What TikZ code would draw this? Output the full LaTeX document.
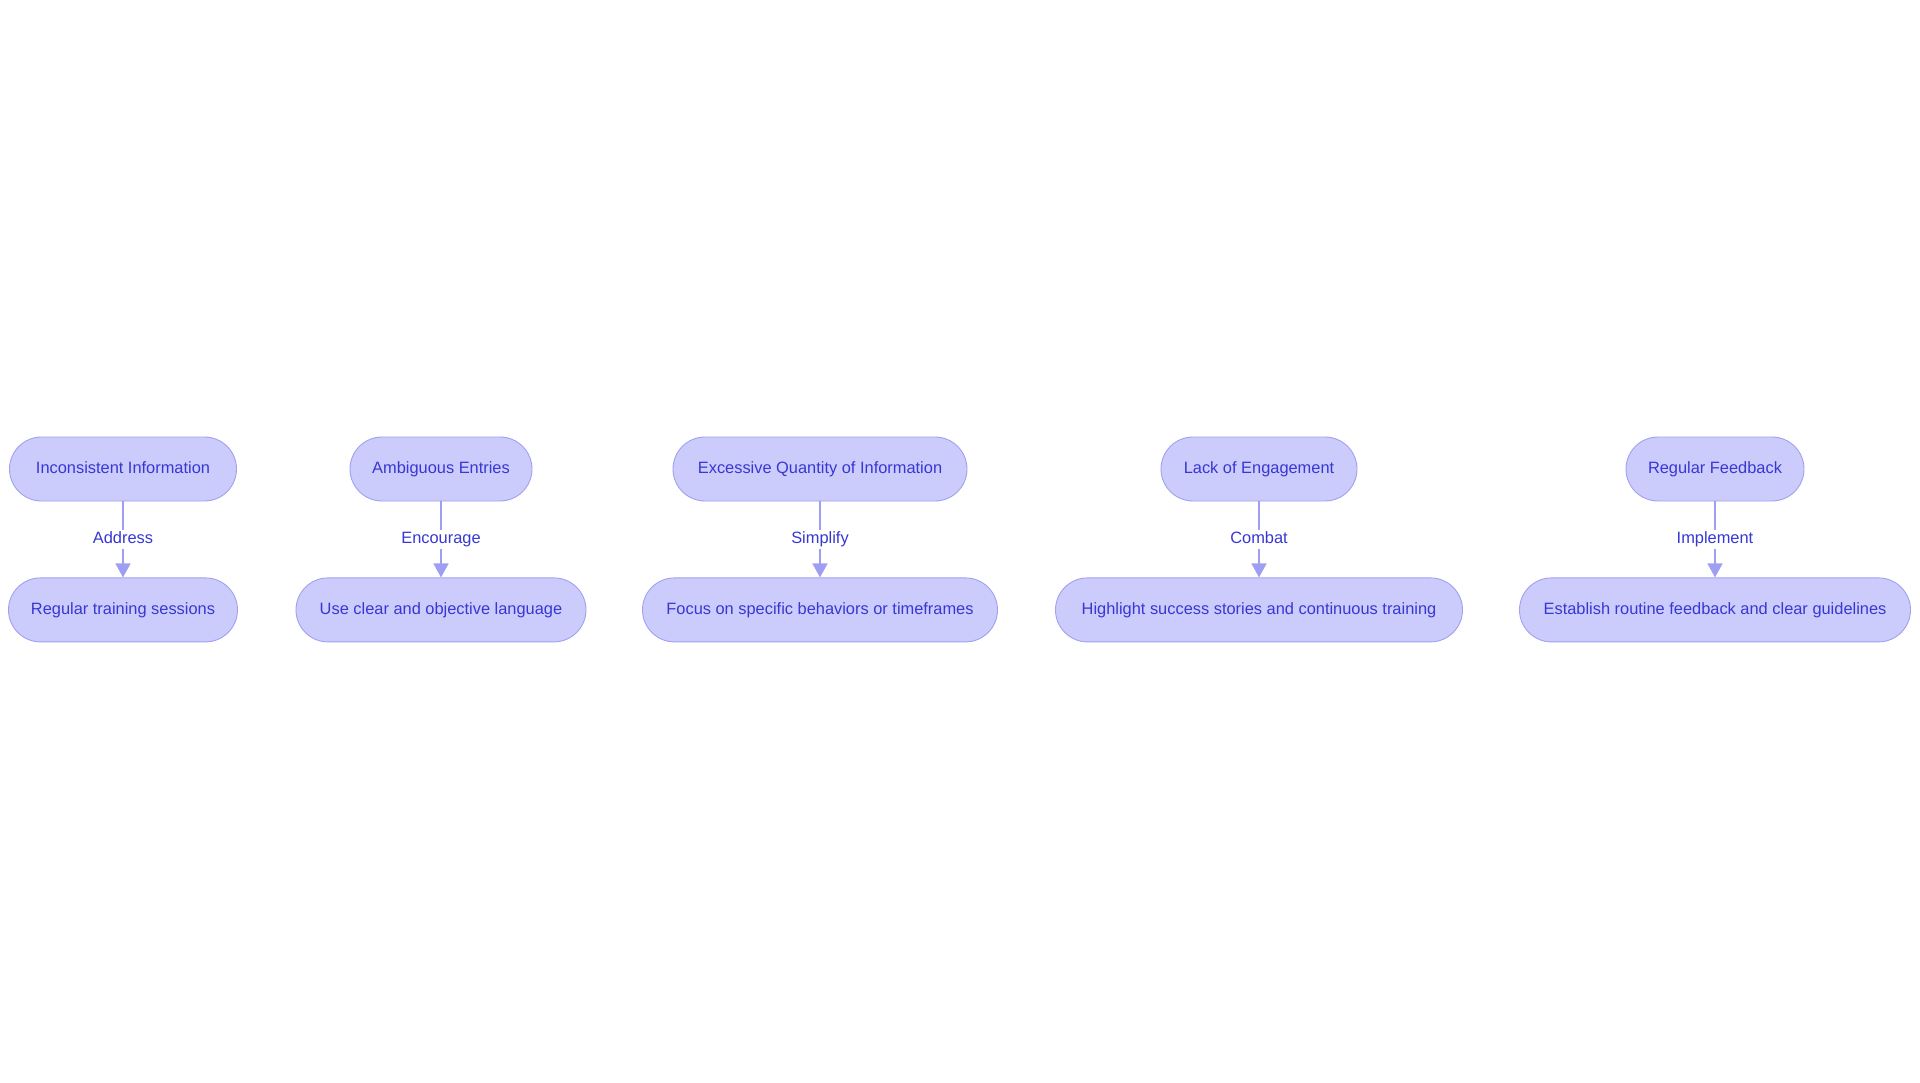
\documentclass[tikz,border=0pt]{standalone}
\usepackage{fontspec}
\setmainfont{Liberation Sans}
\usetikzlibrary{positioning}
\usetikzlibrary{arrows.meta}
\definecolor{boxfill}{RGB}{204,204,252}
\definecolor{boxline}{RGB}{160,160,240}
\definecolor{boxtext}{RGB}{55,55,212}
\definecolor{wireline}{RGB}{158,158,242}
\tikzset{
	issue/.style={draw=boxline, fill=boxfill, text=boxtext, rounded corners=32pt,
		minimum height=64pt, inner xsep=0pt, line width=0.9pt, text height=12pt, text depth=3.5pt,
		font=\fontsize{16.4}{20}\selectfont},
	wire/.style={draw=wireline, line width=1.6pt, -{Triangle[length=14pt, width=15pt]}},
	tag/.style={fill=white, text=boxtext, inner sep=2pt, text height=12pt, text depth=3.5pt,
		font=\fontsize{16.4}{20}\selectfont}
}
\begin{document}
\begin{tikzpicture}[x=1pt, y=-1pt, node distance=76pt]

		% Fix the page to the reference size
		\useasboundingbox (0,0) rectangle (1920,1083);

		% Draw the problems on the top row
		\node[issue, minimum width=227pt] (incons) at (123, 469) {Inconsistent Information};
		\node[issue, minimum width=182pt] (ambig) at (441, 469) {Ambiguous Entries};
		\node[issue, minimum width=294pt] (excess) at (820, 469) {Excessive Quantity of Information};
		\node[issue, minimum width=196pt] (engage) at (1259, 469) {Lack of Engagement};
		\node[issue, minimum width=178pt] (feedback) at (1715, 469) {Regular Feedback};

		% Draw the remedies below them
		\node[issue, minimum width=229pt, below=of incons] (training) {Regular training sessions};
		\node[issue, minimum width=290pt, below=of ambig] (language) {Use clear and objective language};
		\node[issue, minimum width=355pt, below=of excess] (focus) {Focus on specific behaviors or timeframes};
		\node[issue, minimum width=407pt, below=of engage] (stories) {Highlight success stories and continuous training};
		\node[issue, minimum width=391pt, below=of feedback] (routine) {Establish routine feedback and clear guidelines};

		% Draw the links with their labels
		\draw[wire] (incons) -- (training) node[tag, midway] {Address};
		\draw[wire] (ambig) -- (language) node[tag, midway] {Encourage};
		\draw[wire] (excess) -- (focus) node[tag, midway] {Simplify};
		\draw[wire] (engage) -- (stories) node[tag, midway] {Combat};
		\draw[wire] (feedback) -- (routine) node[tag, midway] {Implement};

	\end{tikzpicture}
\end{document}
